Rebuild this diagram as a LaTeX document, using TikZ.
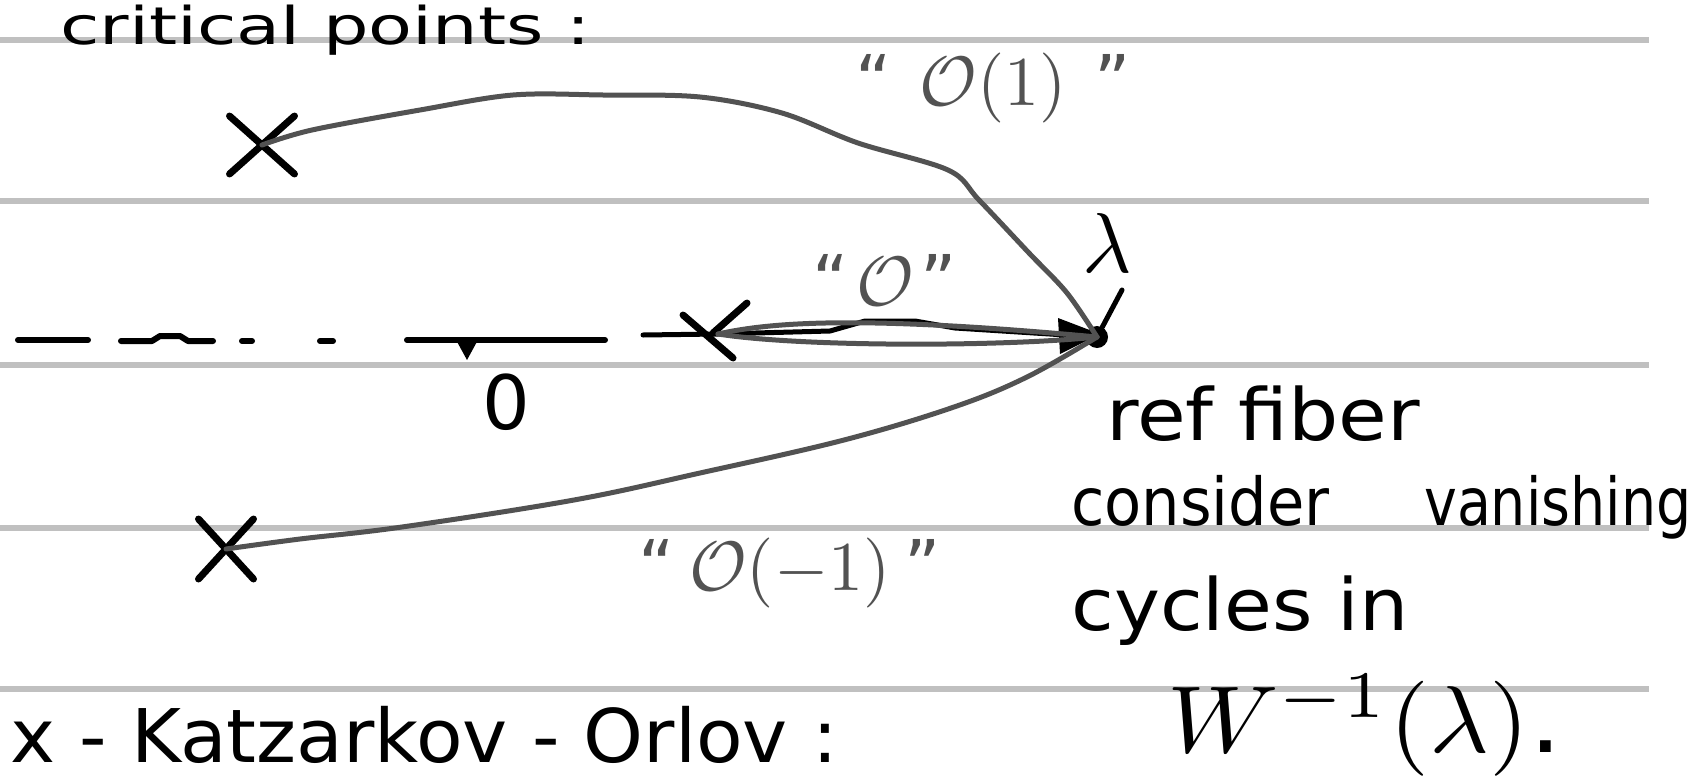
\documentclass[tikz,border=0pt]{standalone}
\usepackage{fontspec}
\setmainfont{DejaVu Sans}
\usetikzlibrary{arrows.meta,shapes.misc}
\definecolor{rulecol}{RGB}{192,192,192}
\definecolor{pen}{RGB}{82,82,82}
\newcommand{\fs}[1]{\fontsize{#1}{#1}\selectfont}
\begin{document}
\begin{tikzpicture}[x=1pt,y=-1pt,line cap=round,line join=round,
  ruled/.style={line width=6pt,draw=rulecol,line cap=butt},
  ink/.style={line width=6pt,draw=black},
  pencil/.style={line width=5pt,draw=pen},
  xmark/.style={cross out,draw=black,line width=7pt,inner sep=0pt,outer sep=0pt},
  txt/.style={inner sep=0pt,anchor=base west,text=black},
  glab/.style={inner sep=0pt,anchor=base,text=pen,font=\fs{10}}]
\useasboundingbox (0,0) rectangle (1693,779);
\clip (0,0) rectangle (1693,779);
% ruled paper
\foreach \yy in {40,201,365,528,689} \draw[ruled] (0,\yy) -- (1649,\yy);

% heading
\node[txt,font=\fs{52},xscale=1.38] (crit) at (60,44) {critical points :};

% critical points and reference point
\node[xmark,minimum width=65pt,minimum height=58pt] (xa) at (262,145) {};
\node[xmark,minimum width=55pt,minimum height=60pt] (xc) at (226,549) {};
\coordinate (xb) at (718,334);
\draw[ink,line width=7pt] (683,315) -- (733,358);
\draw[ink,line width=7pt] (747,303) -- (713,333);
\node[circle,fill=black,inner sep=0pt,minimum size=22pt] (lam) at (1097,337) {};

% real axis (dash-dot) and origin
\draw[ink] (18,340) -- (88,340);
\draw[ink] (121,341) -- (152,341) -- (160,336) -- (180,336) -- (188,341) -- (213,341);
\draw[ink] (242,341) -- (252,341);
\draw[ink] (320,341) -- (333,341);
\draw[ink] (407,340) -- (605,340);
\coordinate (o) at (467,340);
\fill[black] (455,338) -- (479,338) -- (467,360) -- cycle;
\node[inner sep=0pt,font=\fs{75}] (zero) at (506,402) {0};

% black arrow to lambda
\coordinate (axs) at (643,335);
\draw[ink,line width=5pt] (axs) -- (xb) -- (830,331) -- (865,321) -- (915,321) -- (955,328) -- (lam.center);
\fill[black] (1058,318) -- (1100,334) -- (1060,354) -- cycle;

% grey paths
\draw[pencil] (xb) .. controls (780,320) and (880,317) .. (lam.center);
\draw[pencil] (xb) .. controls (800,347) and (1000,347) .. (lam.center);
\draw[pencil] plot[smooth,tension=0.55] coordinates {(xa.center) (312,130) (420,110) (513,95) (603,95) (700,97) (782,113) (858,143) (948,170) (979,200) (1029,253) (1067,293) (lam.center)};
\draw[pencil] plot[smooth,tension=0.6] coordinates {(xc.center) (300,539) (402,527) (574,500) (700,473) (844,440) (954,407) (1027,377) (lam.center)};

% grey labels
\node[glab,scale=7] (l1) at (993,105) {``\hspace{0.4em}$\mathcal{O}(1)$\hspace{0.4em}''};
\node[glab,scale=7] (l0) at (885,305) {``\hspace{0.1em}$\mathcal{O}$\hspace{0.1em}''};
\node[glab,scale=7] (lm) at (790,590) {``\hspace{0.2em}$\mathcal{O}(-1)$\hspace{0.2em}''};

% lambda label
\node[inner sep=0pt,font=\fs{10},scale=8.5] (laml) at (1107,243) {$\lambda$};
\coordinate (lt) at (1122,290);
\draw[ink,line width=5pt] (lt) -- (lam);

% right-hand text
\node[txt,font=\fs{72},xscale=1.1] (t1) at (1106,440) {ref fiber};
\node[txt,font=\fs{66},xscale=0.92] (t2) at (1071,525) {consider};
\node[txt,font=\fs{66},xscale=0.84] (t3) at (1424,525) {vanishing};
\node[txt,font=\fs{72},xscale=1.08] (t4) at (1071,630) {cycles in};
\node[txt,font=\fs{10},xscale=10.3,yscale=9.5] (t5) at (1165,752) {$W^{-1}(\lambda)$.};

% bottom line
\node[txt,font=\fs{74},xscale=1.03] (t6) at (10,762) {x - Katzarkov - Orlov :};
\end{tikzpicture}
\end{document}
